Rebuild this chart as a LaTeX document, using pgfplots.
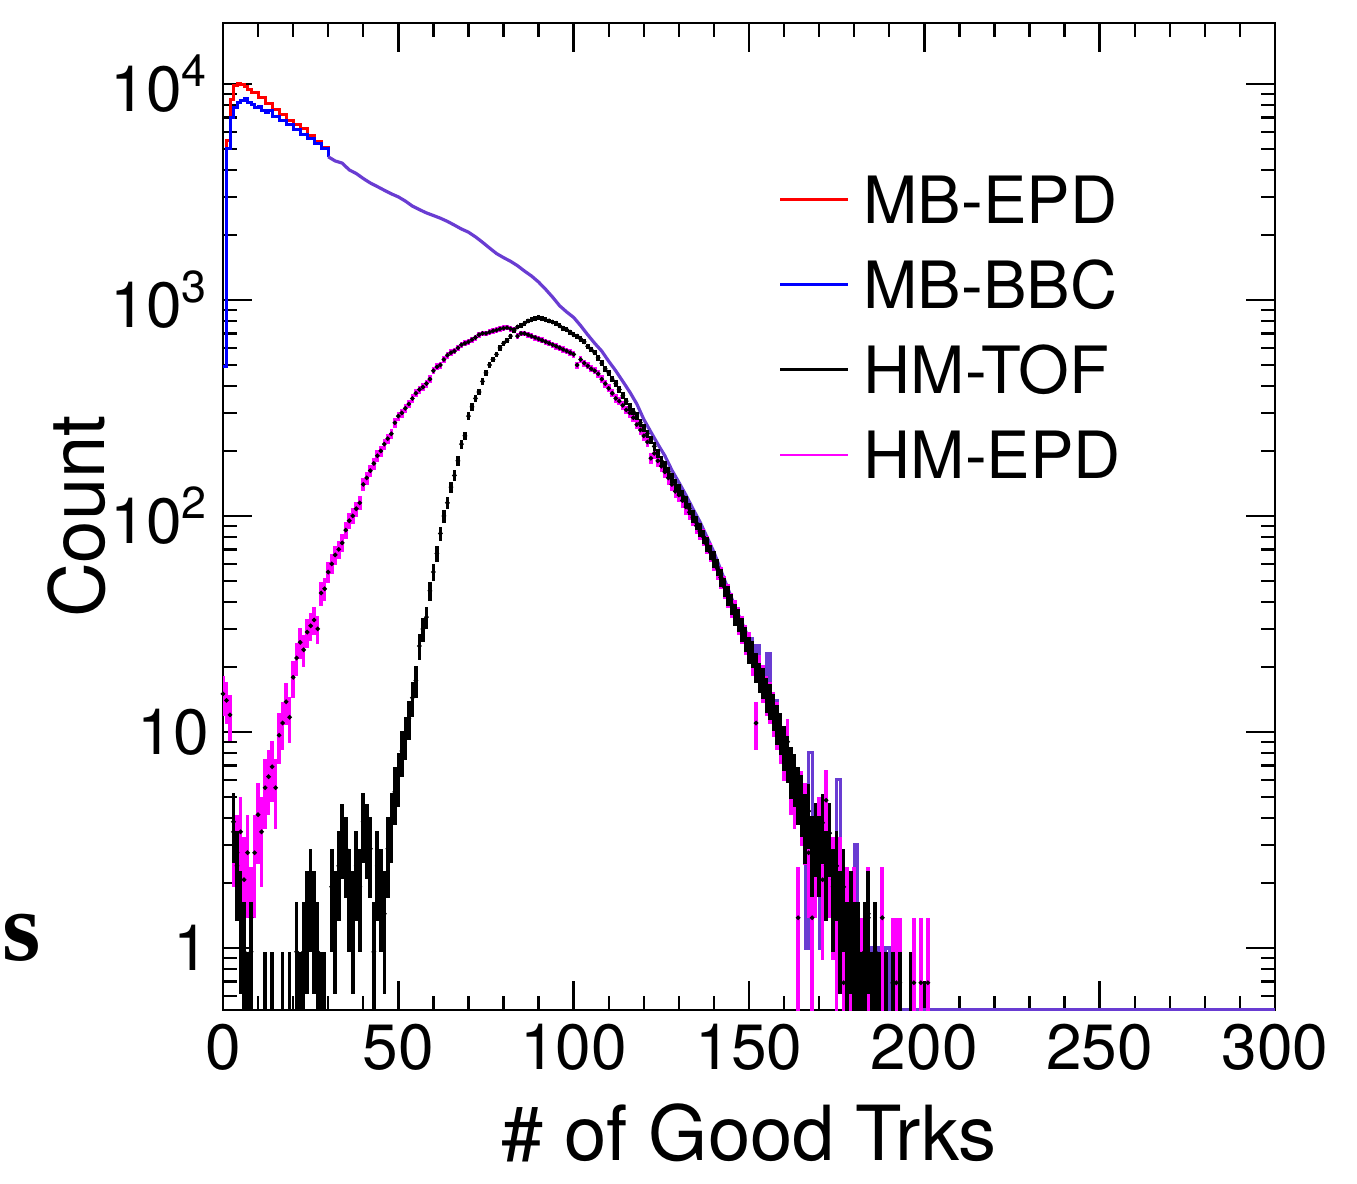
\documentclass[border=0pt]{standalone}
\usepackage{pgfplots}
\usepackage{pgfplotstable}
\pgfplotsset{compat=1.18}
\usepackage{fontspec}
\setmainfont{TeX Gyre Heros}
\newfontfamily\serifb{Liberation Serif}
\definecolor{mbmix}{RGB}{105,60,210}
\definecolor{hmmag}{RGB}{255,0,255}
\definecolor{mbred}{RGB}{255,0,0}
\definecolor{mbblue}{RGB}{0,0,255}

\pgfplotstableread{
x y
0 490
1 5500
2 8500
3 9800
4 10000
5 9900
6 9700
7 9400
8 9100
10 8700
12 8100
14 7600
16 7200
18 6800
20 6500
22 6200
24 5800
26 5400
28 5100
30 4600
}\mbredtab

\pgfplotstableread{
x y
0 490
1 5000
2 7000
3 7800
4 8200
5 8400
6 8600
7 8200
8 8000
9 7800
10 7900
11 7500
12 7400
13 7500
14 7100
16 6800
18 6500
20 6150
22 5850
24 5600
26 5300
28 5000
30 4600
}\mbbluetab

\pgfplotstableread{
x y
30 4600
32 4400
34 4300
36 4000
38 3850
40 3650
42 3480
44 3350
46 3220
48 3100
50 3000
52 2870
54 2720
56 2620
58 2530
60 2460
62 2390
64 2310
66 2220
68 2130
70 2060
72 1960
74 1850
76 1740
78 1640
80 1570
82 1510
84 1440
86 1360
88 1290
90 1210
92 1120
94 1030
96 940
98 880
100 830
102 760
104 690
106 630
108 580
110 520
112 470
114 420
116 375
118 330
120 280
122 245
124 215
126 190
128 163
130 143
132 125
134 108
136 94
138 80
140 68
142 56
144 46
146 38
148 32
150 27
}\mbsmooth

\pgfplotstableread{
x y
150 27
151 23
152 25
153 19
154 17
155 23
156 12
157 14
158 11
159 10.5
160 9
161 8
162 7
163 6
164 5
165 4
166 1
167 8
168 3
169 3
170 1
171 4
172 3
173 2
174 1
175 6
176 2
177 1
178 2
179 1
180 3
181 1
182 1
183 0.516
184 1
185 0.516
186 1
187 0.516
189 1
190 0.516
300 0.516
}\mbtail

\pgfplotstableread{
x y e
0 15 3.2
1 14 3.1
2 12 2.9
3 3.45 1.54
4 2.76 1.38
5 3.45 1.54
6 2.07 1.19
7 2.76 1.38
8 1.38 0.98
9 2.76 1.38
10 4.14 1.69
11 3.45 1.54
12 5.52 1.95
13 6.21 2.07
14 6.9 2.18
15 5.52 1.95
16 9.66 2.58
17 11 2.75
18 13.8 3.08
19 11.7 2.84
20 17.9 3.5
21 22 3.9
22 26 4.2
23 24 4.07
24 29 4.47
25 31 4.6
26 33 4.77
27 30 4.55
28 44 5.5
29 46 5.6
30 55 6.2
31 60 6.4
32 66 6.7
33 70 6.9
34 75 7.2
35 86 7.7
36 95 8.1
37 100 8.3
38 108 8.6
39 115 8.9
40 140 9.8
41 150 10.2
42 162 10.6
43 175 11
44 190 11.4
45 200 11.7
46 215 12.2
47 228 12.5
48 240 12.9
49 270 13.6
50 290 14.1
51 300 14.4
52 315 14.7
53 330 15.1
54 350 15.5
55 370 16
56 385 16.3
57 395 16.5
58 410 16.8
59 430 17.2
60 470 18
61 490 18.4
62 500 18.6
63 530 19.1
64 555 19.6
65 570 19.8
66 580 20
67 600 20.3
68 620 20.7
69 630 20.8
70 640 21
71 655 21.2
72 670 21.5
73 690 21.8
74 700 22
75 700 22
76 710 22.1
77 720 22.3
78 725 22.3
79 735 22.5
80 740 22.6
81 745 22.7
82 735 22.5
83 730 22.4
84 680 21.6
85 700 22
86 700 22
87 690 21.8
88 680 21.6
89 670 21.5
90 660 21.3
91 650 21.2
92 640 21
93 630 20.8
94 620 20.7
95 610 20.5
96 600 20.3
97 590 20.2
98 580 20
99 570 19.8
100 560 19.6
101 500 18.6
102 530 19.1
103 510 18.7
104 495 18.5
105 480 18.2
106 470 18
107 455 17.7
108 430 17.2
109 410 16.8
110 390 16.4
111 370 16
112 350 15.5
113 340 15.3
114 325 15
115 310 14.6
116 300 14.4
117 285 14
118 265 13.5
119 250 13.1
120 235 12.7
121 220 12.3
122 185 11.3
123 195 11.6
124 180 11.1
125 170 10.8
126 160 10.5
127 150 10.2
128 140 9.8
129 130 9.5
130 125 9.3
131 118 9
132 110 8.7
133 104 8.5
134 98 8.2
135 90 7.9
136 85 7.65
137 80 7.4
138 74 7.1
139 68 6.8
140 62 6.5
141 57 6.3
142 52 6
143 47 5.7
144 43 5.4
145 39 5.2
146 36 5
147 33 4.8
148 30 4.5
149 27 4.3
150 25 4.15
151 22 3.9
152 11 2.75
153 19 3.6
154 17 3.4
155 15 3.2
156 14 3.1
157 12.4 2.9
158 11 2.75
159 9.7 2.6
160 8.3 2.4
161 9 2.5
162 6.2 2.07
163 5.5 1.95
164 1.38 0.98
165 4.8 1.82
166 4.1 1.69
167 2.76 1.38
168 1.38 0.98
169 2.76 1.38
170 3.45 1.54
171 2.07 1.19
172 4.83 1.82
173 2.76 1.38
174 2.07 1.19
175 1.38 0.98
176 2.07 1.19
177 0.69 0.69
178 1.38 0.98
179 0.69 0.69
180 1.38 0.98
181 0.69 0.69
182 0.69 0.69
184 1.38 0.98
188 1.38 0.98
191 0.69 0.69
192 0.69 0.69
193 0.69 0.69
197 0.69 0.69
199 0.69 0.69
201 0.69 0.69
}\hmepd

\pgfplotstableread{
x y e
3 3.84 1.36
4 2.4 1.07
5 1.44 0.83
6 0.96 0.68
7 0.48 0.48
8 0.96 0.68
12 0.48 0.48
14 0.48 0.48
17 0.48 0.48
19 0.48 0.48
21 0.96 0.68
22 0.48 0.48
23 0.96 0.68
24 1.44 0.83
25 1.92 0.96
26 1.44 0.83
27 0.96 0.68
28 0.48 0.48
29 0.48 0.48
31 1.92 0.96
32 1.44 0.83
33 2.4 1.07
34 3.36 1.27
35 2.88 1.18
36 1.92 0.96
37 1.44 0.83
38 2.4 1.07
39 1.92 0.96
40 3.84 1.36
41 3.36 1.27
42 2.88 1.18
43 0.96 0.68
44 2.4 1.07
45 1.92 0.96
46 1.44 0.83
47 2.88 1.18
48 3.84 1.36
49 5.28 1.59
50 6.24 1.73
51 8.16 1.98
52 9.6 2.15
53 11.5 2.35
54 14.4 2.63
55 17.3 2.88
56 25 3.47
57 30 3.8
58 34 4.04
59 45 4.65
60 55 5.14
61 67 5.67
62 83 6.31
63 100 6.93
64 115 7.43
65 136 8.08
66 154 8.6
67 180 9.3
68 215 10.2
69 235 10.6
70 290 11.8
71 320 12.4
72 350 13
73 375 13.4
74 420 14.2
75 460 14.9
76 500 15.5
77 530 16
78 560 16.4
79 600 17
80 630 17.4
81 650 17.7
82 680 18.1
83 720 18.6
84 750 19
85 760 19.1
86 780 19.4
87 800 19.6
88 810 19.7
89 820 19.8
90 830 20
91 820 19.8
92 810 19.7
93 800 19.6
94 790 19.5
95 780 19.4
96 760 19.1
97 740 18.9
98 730 18.7
99 710 18.5
100 690 18.2
101 680 18.1
102 660 17.8
103 640 17.5
104 610 17.1
105 590 16.8
106 570 16.5
107 540 16.1
108 510 15.7
109 480 15.2
110 460 14.9
111 430 14.4
112 410 14
113 385 13.6
114 360 13.1
115 340 12.8
116 320 12.4
117 305 12.1
118 290 11.8
119 270 11.4
120 255 11.1
121 240 10.7
122 225 10.4
123 210 10
124 195 9.7
125 180 9.3
126 170 9
127 160 8.8
128 150 8.5
129 140 8.2
130 132 8
131 124 7.7
132 116 7.5
133 108 7.2
134 100 6.9
135 93 6.7
136 86 6.4
137 80 6.2
138 74 6
139 68 5.7
140 63 5.5
141 58 5.3
142 52 5
143 47 4.75
144 43 4.5
145 39 4.3
146 35 4.1
147 33 4
148 30 3.8
149 27 3.6
150 24 3.4
151 23 3.3
152 20 3.1
153 18 2.9
154 17 2.86
155 15 2.7
156 14 2.6
157 12.5 2.45
158 11 2.3
159 10 2.2
160 8.6 2.03
161 7.7 1.92
162 6.7 1.8
163 6.2 1.73
164 5.3 1.6
165 4.8 1.52
166 3.8 1.35
167 4.3 1.44
168 2.9 1.18
169 3.4 1.28
170 2.9 1.18
171 3.8 1.35
172 2.4 1.07
173 3.4 1.28
174 1.92 0.96
175 2.4 1.07
176 1.44 0.83
177 1.92 0.96
178 0.96 0.68
179 1.44 0.83
180 0.96 0.68
181 0.96 0.68
182 0.48 0.48
183 0.96 0.68
184 1.44 0.83
185 0.48 0.48
186 0.96 0.68
187 0.48 0.48
189 0.48 0.48
191 0.48 0.48
193 0.48 0.48
196 0.48 0.48
}\hmtof

\begin{document}
\begin{tikzpicture}
\path[use as bounding box, fill=white] (-55.75pt,-43.25pt) rectangle (283.5pt,252.5pt);
\node[anchor=base west, inner sep=0pt, font={\fontsize{24.6}{28}\serifb\bfseries}] at (-55.3pt,12.5pt) {s};
\begin{axis}[
  at={(0pt,0pt)}, anchor=south west,
  scale only axis, width=263pt, height=246.75pt,
  xmin=0, xmax=300, ymode=log, ymin=0.516, ymax=19150,
  xtick={0,50,100,150,200,250,300},
  xticklabels={0,50,100,150,200,250,300},
  minor x tick num=4,
  ytick={1,10,100,1000,10000},
  yticklabels={1,10,{10\textsuperscript{2}},{10\textsuperscript{3}},{10\textsuperscript{4}}},
  minor ytick={0.6,0.7,0.8,0.9,2,3,4,5,6,7,8,9,20,30,40,50,60,70,80,90,200,300,400,500,600,700,800,900,2000,3000,4000,5000,6000,7000,8000,9000},
  tick align=inside,
  major tick length=7.2pt, minor tick length=3.6pt,
  every tick/.style={black, line width=0.6pt},
  axis line style={line width=0.7pt},
  tick label style={font=\fontsize{16}{19}\selectfont},
  xlabel={\# of Good Trks}, ylabel={Count},
  label style={font=\fontsize{19}{22}\selectfont},
  xlabel style={at={(axis description cs:0.5,-0.152)}, anchor=base, inner sep=0pt},
  ylabel style={at={(axis description cs:-0.111,0.5)}, anchor=south, inner sep=0pt},
  legend style={at={(axis description cs:0.5276,0.850)}, anchor=north west, draw=none, fill=none,
    inner sep=0pt, row sep=7.5pt, column sep=2.5pt,
    font=\fontsize{16.3}{19}\selectfont,
    nodes={inner sep=1pt, text height=11.8pt, text depth=0pt}},
  legend cell align=left,
  legend image code/.code={\draw[#1] (0pt,0pt) -- (17pt,0pt);},
]
\addlegendimage{mbred, line width=0.7pt}
\addlegendentry{MB-EPD}
\addlegendimage{mbblue, line width=0.7pt}
\addlegendentry{MB-BBC}
\addlegendimage{black, line width=0.7pt}
\addlegendentry{HM-TOF}
\addlegendimage{hmmag, line width=0.7pt}
\addlegendentry{HM-EPD}

\addplot[const plot, mbred, line width=0.75pt, forget plot] table[x=x,y=y] {\mbredtab};
\addplot[const plot, mbblue, line width=0.75pt, forget plot] table[x=x,y=y] {\mbbluetab};
\addplot[sharp plot, mbmix, line width=0.8pt, line join=round, forget plot] table[x=x,y=y] {\mbsmooth};
\addplot[const plot, mbmix, line width=0.8pt, forget plot] table[x=x,y=y] {\mbtail};

\addplot[only marks, mark=*, mark size=0.35pt, mark options={black, fill=black}, forget plot,
  error bars/.cd, x dir=both, x fixed=0.5, y dir=both, y explicit,
  error mark=none, error bar style={hmmag, line width=0.9pt}]
  table[x=x, y=y, y error plus=e, y error minus expr={min(\thisrow{e},0.9*\thisrow{y})}] {\hmepd};

\addplot[only marks, mark=*, mark size=0.35pt, mark options={black, fill=black}, forget plot,
  error bars/.cd, x dir=both, x fixed=0.5, y dir=both, y explicit,
  error mark=none, error bar style={black, line width=0.9pt}]
  table[x=x, y=y, y error plus=e, y error minus expr={min(\thisrow{e},0.9*\thisrow{y})}] {\hmtof};
\end{axis}
\end{tikzpicture}
\end{document}
